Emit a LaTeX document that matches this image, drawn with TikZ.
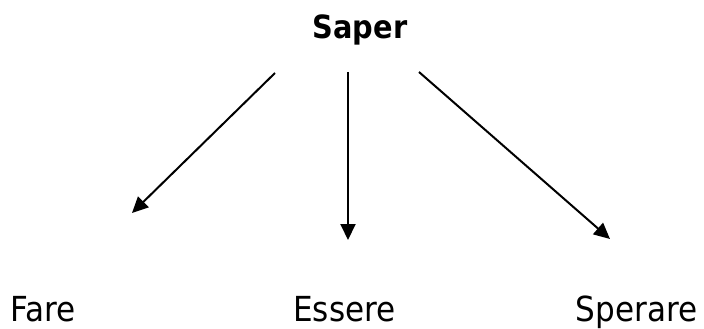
\documentclass[tikz,border=0pt]{standalone}
\usepackage{fontspec}
\setmainfont{DejaVu Sans}[FakeStretch=0.9]
\usetikzlibrary{arrows.meta}
\begin{document}
\begin{tikzpicture}[x=1pt,y=-1pt,
  word/.style={inner sep=0pt,anchor=base,font=\fontsize{34.5}{40}\selectfont},
  head/.style={inner sep=0pt,anchor=base,font=\fontsize{32}{38}\selectfont\bfseries},
  link/.style={line width=2pt,-{Triangle[length=16pt,width=15pt]}}]
\useasboundingbox (0,0) rectangle (704,329);
% root and leaves
\node[head] (saper) at (360,39) {Saper};
\node[word] (fare) at (43,321) {Fare};
\node[word] (essere) at (344.5,321) {Essere};
\node[word] (sperare) at (636.5,321) {Sperare};
% arrow end points
\coordinate (s1) at (275,73);
\coordinate (s2) at (348,72);
\coordinate (s3) at (419,72);
\coordinate (t1) at (132,213);
\coordinate (t2) at (348,240);
\coordinate (t3) at (610,239);
\draw[link] (s1) -- (t1);
\draw[link] (s2) -- (t2);
\draw[link] (s3) -- (t3);
\end{tikzpicture}
\end{document}
